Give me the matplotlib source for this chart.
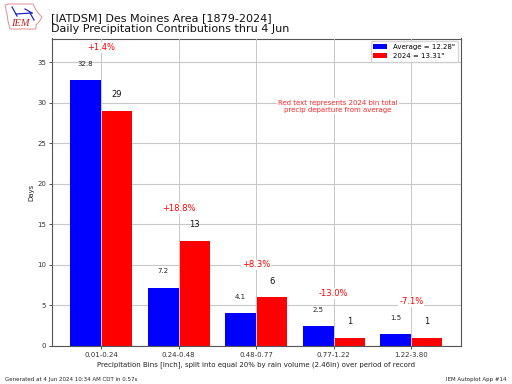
import matplotlib
matplotlib.use("Agg")
import matplotlib.pyplot as plt
from matplotlib.patches import Polygon
import numpy as np

bins = ["0.01-0.24", "0.24-0.48", "0.48-0.77", "0.77-1.22", "1.22-3.80"]
average_days = [32.8, 7.2, 4.1, 2.5, 1.5]
year_days = [29, 13, 6, 1, 1]
departures = ["+1.4%", "+18.8%", "+8.3%", "-13.0%", "-7.1%"]

fig = plt.figure(figsize=(5.12, 3.84), dpi=100)
W, H = 512.0, 384.0
ax = fig.add_axes([51.5/W, 1-346/H, (461-51.5)/W, (346-38.5)/H])
x = np.arange(len(bins))
w = 0.4
ax.bar(x-w/2, average_days, w, color="blue", label="Average = 12.28\"", zorder=2)
ax.bar(x+w/2, year_days, w, color="red", label="2024 = 13.31\"", zorder=2)
ax.set_axisbelow(True)
ax.grid(True, axis="y", color="#c8c8c8", lw=0.8)
ax.set_xlim(-0.64, 4.64)
ax.set_ylim(0, 37.95)
ax.set_xticks(x)
ax.set_xticklabels(bins)
ax.set_yticks(range(0, 36, 5))
# vertical grid lines show along the seam between each pair of bars
for pos in x:
    ax.axvline(pos, color="#c8c8c8", lw=0.7, zorder=3)
ax.tick_params(labelsize=5, length=2.5, width=0.6, pad=1.5, colors="#333333")
for s in ax.spines.values():
    s.set_linewidth(0.8)
    s.set_color("#555555")
ax.set_ylabel("Days", fontsize=5, color="#222222", labelpad=1.5)
ax.set_xlabel("Precipitation Bins [inch], split into equal 20% by rain volume (2.46in) over period of record",
              fontsize=5, color="#222222", labelpad=3)

for i, (a, y, d) in enumerate(zip(average_days, year_days, departures)):
    ax.text(i-w/2, a+2, f"{a}", ha="center", va="center", fontsize=5, color="#222222", zorder=5)
    ax.text(i+w/2, y+2, f"{y}", ha="center", va="center", fontsize=6, color="#111111", zorder=5)
    ax.text(i, max(a, y)+4, d, ha="center", va="center", fontsize=6, color="red", zorder=5,
            bbox=dict(fc="white", ec="none", pad=0.6))

ax.text(0.70, 0.78, "Red text represents 2024 bin total\nprecip departure from average",
        transform=ax.transAxes, ha="center", va="center", fontsize=5, color="red", alpha=0.85, zorder=5,
        linespacing=1.25, bbox=dict(fc="white", ec="none", pad=1))

ax.legend(loc="upper right", fontsize=5, framealpha=0.8, borderpad=0.4, handlelength=2.0,
          labelspacing=0.4, handletextpad=0.9, borderaxespad=0.4).set_zorder(6)

fig.text(51/W, 1-18/H, "[IATDSM] Des Moines Area [1879-2024]", fontsize=8, color="#111111", va="center")
fig.text(51/W, 1-29.5/H, "Daily Precipitation Contributions thru 4 Jun", fontsize=8, color="#111111", va="center")
fig.text(5/W, 1-379/H, "Generated at 4 Jun 2024 10:34 AM CDT in 0.57s", fontsize=4, color="#222222", va="center")
fig.text(507/W, 1-379/H, "IEM Autoplot App #14", fontsize=4, color="#222222", va="center", ha="right")

# IEM logo: Iowa outline, network sketch, lettering
outline = [(5,5),(9,4),(33,4),(36,10),(38,13),(42,17),(39,22),(36,25),(36,29),(10,29),(8,21),(7,14)]
fig.add_artist(Polygon([(px/W, 1-py/H) for px, py in outline], closed=True,
                       fc="none", ec="#e09090", lw=0.7, transform=fig.transFigure))
for seg in [[(16,14),(32,13)],[(12,7),(17,16)],[(25,9),(32,13)],[(30,13),(34,20)]]:
    xs, ys = zip(*seg)
    fig.add_artist(plt.Line2D([v/W for v in xs], [1-v/H for v in ys], color="#2222cc", lw=0.9,
                              transform=fig.transFigure))
fig.text(11/W, 1-24/H, "IEM", fontsize=7.5, color="#c02020", style="italic", family="Liberation Serif", va="center")

fig.savefig("out.png", dpi=100)
